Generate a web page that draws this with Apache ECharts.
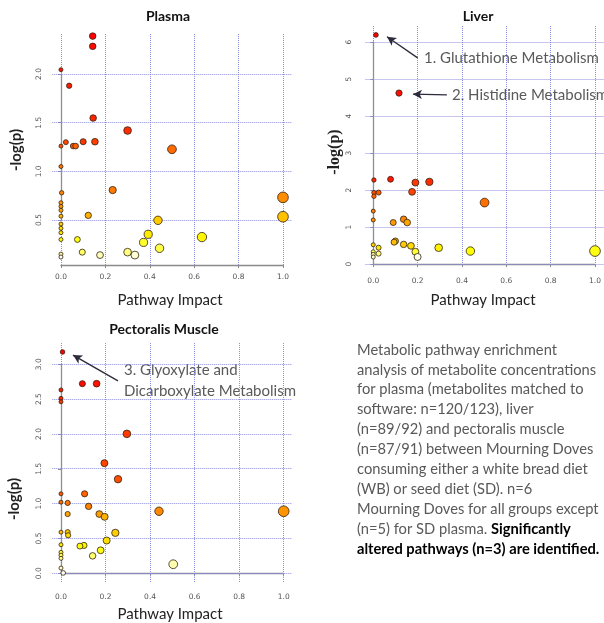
<!DOCTYPE html>
<html><head><meta charset="utf-8">
<script src="https://cdn.jsdelivr.net/npm/echarts@6/dist/echarts.min.js"></script>
<style>html,body{margin:0;padding:0;background:#fff}#c{width:604px;height:623px}</style>
</head><body><div id="c"></div>
<script>
// ---------------- data ----------------
const xTicks = [0, 0.2, 0.4, 0.6, 0.8, 1.0];
const xTickLabels = ['0.0', '0.2', '0.4', '0.6', '0.8', '1.0'];
const plasmaYTicks = [0.5, 1.0, 1.5, 2.0];
const liverYTicks = [0, 1, 2, 3, 4, 5, 6];
const pectYTicks = [0, 0.5, 1.0, 1.5, 2.0, 2.5, 3.0];

const plasmaImpact = [0.143,0.143,0,0.037,0.145,0.30,0.022,0,0.055,0.066,0.10,0.153,0.50,0,0.003,0.233,1.0,0,0,0,0,0.123,0.437,1.0,0,0,0,0,0.074,0.393,0.372,0.635,0.444,0.096,0.176,0.30,0.333,0,0];
const plasmaLogP   = [2.39,2.285,2.045,1.88,1.548,1.42,1.30,1.26,1.26,1.26,1.305,1.305,1.227,1.05,0.78,0.808,0.733,0.678,0.64,0.60,0.54,0.548,0.497,0.534,0.459,0.415,0.37,0.30,0.30,0.353,0.27,0.325,0.21,0.17,0.14,0.17,0.14,0.15,0.12];

const liverImpact = [0.012,0.116,0.003,0.078,0.19,0.253,0.003,0.024,0.003,0.175,0.502,0,0,0.09,0.137,0.153,0.10,0.094,0.137,0,0.024,0.17,0.295,0.19,0.438,1.0,0,0,0.024,0,0.20];
const liverLogP   = [6.19,4.62,2.27,2.29,2.20,2.22,1.93,1.93,1.83,1.95,1.66,1.43,1.19,1.12,1.21,1.12,0.62,0.59,0.53,0.52,0.44,0.49,0.44,0.33,0.35,0.35,0.33,0.26,0.28,0.19,0.19];

const pectImpact = [0.007,0.096,0.16,0,0,0,0.296,0.195,0.256,0,0.106,0,0.03,0.124,0.44,1.0,0.172,0.196,0.03,0,0.03,0.032,0.244,0.205,0,0.085,0.103,0.178,0.142,0,0,0,0.504,0,0.01];
const pectLogP   = [3.175,2.72,2.72,2.63,2.51,2.46,2.0,1.58,1.35,1.14,1.14,1.02,1.01,0.96,0.89,0.89,0.85,0.81,0.85,0.59,0.59,0.545,0.58,0.47,0.41,0.39,0.40,0.33,0.25,0.30,0.26,0.215,0.13,0.075,0.005];

const panelTitles = ['Plasma', 'Liver', 'Pectoralis Muscle'];
const xName = 'Pathway Impact';
const yName = '-log(p)';
const notes = [
  {text: '1. Glutathione Metabolism', from: [0.20, 5.57], to: [0.062, 6.14]},
  {text: '2. Histidine Metabolism', from: [0.332, 4.57], to: [0.179, 4.59]},
  {text: '3. Glyoxylate and\nDicarboxylate Metabolism', from: [0.256, 2.76], to: [0.054, 3.13]}
];
const captionLines = [
  'Metabolic pathway enrichment',
  'analysis of metabolite concentrations',
  'for plasma (metabolites matched to',
  'software: n=120/123), liver',
  '(n=89/92) and pectoralis muscle',
  '(n=87/91) between Mourning Doves',
  'consuming either a white bread diet',
  '(WB) or seed diet (SD). n=6',
  'Mourning Doves for all groups except',
  '(n=5) for SD plasma. {b|Significantly}',
  '{b|altered pathways (n=3) are identified.}'
];

// ---------------- helpers ----------------
function hsv(h, s, v) {
  const i = Math.floor(h * 6), f = h * 6 - i;
  const p = v * (1 - s), q = v * (1 - f * s), t = v * (1 - (1 - f) * s);
  let r, g, b;
  switch (i % 6) {
    case 0: r = v; g = t; b = p; break;
    case 1: r = q; g = v; b = p; break;
    case 2: r = p; g = v; b = t; break;
    case 3: r = p; g = q; b = v; break;
    case 4: r = t; g = p; b = v; break;
    default: r = v; g = p; b = q;
  }
  const c = x => Math.round(x * 255);
  return 'rgb(' + c(r) + ',' + c(g) + ',' + c(b) + ')';
}
// R's heat.colors(n)
function heatColors(n) {
  const j = Math.floor(n / 4), i = n - j, out = [];
  for (let k = 0; k < i; k++) out.push(hsv(i > 1 ? (k / (i - 1)) / 6 : 0, 1, 1));
  const s0 = 1 - 1 / (2 * j), s1 = 1 / (2 * j);
  for (let k = 0; k < j; k++) out.push(hsv(1 / 6, j > 1 ? s0 + k * (s1 - s0) / (j - 1) : s0, 1));
  return out;
}
// points sorted by decreasing -log(p); colour by rank
function buildPoints(xs, ys) {
  const idx = xs.map((_, k) => k).sort((a, b) => ys[b] - ys[a]);
  const cols = heatColors(xs.length);
  return idx.map((k, r) => ({ value: [xs[k], ys[k]], itemStyle: { color: cols[r] } }));
}
function xLabel(v) {
  const n = Number(v);
  const k = xTicks.findIndex(t => Math.abs(t - n) < 1e-6);
  return k >= 0 ? xTickLabels[k] : '';
}

const GRID_COLOR = '#8c8ce0';
const AXIS_COLOR = '#8a8a8a';

// layout of each panel: main plot region + tick-range box (R style axes)
const panels = [
  { main: {left: 52.3, top: 33, width: 240, height: 232}, xr: [-0.039, 1.042], yr: [0.038, 2.422],
    box: {left: 61, top: 74, width: 222, height: 146}, yAx: [0.5, 2.0, 0.5], xOff: 45, yOff: 8.7,
    yTicks: plasmaYTicks, xs: plasmaImpact, ys: plasmaLogP, xLabMargin: 8, yLabMargin: 9, yFmt: v => Number(v).toFixed(1) },
  { main: {left: 365.5, top: 25, width: 238.5, height: 240}, xr: [-0.035, 1.0406], yr: [-0.027, 6.459],
    box: {left: 373.3, top: 42, width: 221.7, height: 222}, yAx: [0, 6, 1], xOff: 0.5, yOff: 7.8,
    yTicks: liverYTicks, xs: liverImpact, ys: liverLogP, xLabMargin: 12, yLabMargin: 12, yFmt: v => String(Math.round(Number(v))) },
  { main: {left: 52.3, top: 342, width: 240, height: 240}, xr: [-0.039, 1.0386], yr: [-0.125, 3.318],
    box: {left: 61, top: 364.3, width: 222.7, height: 209}, yAx: [0, 3, 0.5], xOff: 8.7, yOff: 8.7,
    yTicks: pectYTicks, xs: pectImpact, ys: pectLogP, xLabMargin: 11, yLabMargin: 9, yFmt: v => Number(v).toFixed(1) }
];

const grid = [], xAxis = [], yAxis = [], series = [];
panels.forEach((p, k) => {
  const lab = {fontSize: 7.5, color: '#555', fontFamily: 'DejaVu Sans'};
  const gMain = grid.length;
  grid.push(Object.assign({containLabel: false}, p.main));
  // main x axis: carries only the tick labels (line/ticks drawn by the box axis)
  xAxis.push({gridIndex: gMain, type: 'value', min: p.xr[0], max: p.xr[1], position: 'bottom',
    axisLine: {show: false}, axisTick: {show: false, customValues: xTicks}, splitLine: {show: false},
    axisLabel: Object.assign({show: true, customValues: xTicks, margin: p.xLabMargin + 0.5, formatter: xLabel,
      showMinLabel: true, showMaxLabel: true, hideOverlap: false}, lab)});
  yAxis.push({gridIndex: gMain, type: 'value', min: p.yr[0], max: p.yr[1], show: false});
  const gBox = grid.length;
  grid.push(Object.assign({containLabel: false}, p.box));
  xAxis.push({gridIndex: gBox, type: 'value', min: 0, max: 1, interval: 0.2, position: 'bottom', offset: p.xOff,
    axisLine: {show: true, lineStyle: {color: AXIS_COLOR, width: 1.3}},
    axisTick: {show: true, length: 3, lineStyle: {color: AXIS_COLOR}},
    axisLabel: {show: false},
    splitLine: {show: false}});
  yAxis.push({gridIndex: gBox, type: 'value', min: p.yAx[0], max: p.yAx[1], interval: p.yAx[2], position: 'left', offset: p.yOff,
    axisLine: {show: true, lineStyle: {color: AXIS_COLOR, width: 1.3}},
    axisTick: {show: true, length: 3, lineStyle: {color: AXIS_COLOR}},
    axisLabel: Object.assign({margin: p.yLabMargin, rotate: 90, formatter: p.yFmt}, lab),
    splitLine: {show: false}});

  const ml = [];
  xTicks.forEach(v => ml.push({xAxis: v}));
  p.yTicks.forEach(v => ml.push({yAxis: v}));
  series.push({type: 'scatter', xAxisIndex: gMain, yAxisIndex: gMain, data: [], z: 1, silent: true,
    markLine: {silent: true, symbol: ['none', 'none'], animation: false, label: {show: false},
      lineStyle: {color: GRID_COLOR, type: 'dotted', width: 1}, data: ml}});
  series.push({type: 'scatter', xAxisIndex: gMain, yAxisIndex: gMain, z: 5, clip: false, silent: true,
    symbolSize: v => 4 + 6.7 * Math.sqrt(v[0]),
    itemStyle: {borderColor: 'rgba(50,35,20,0.8)', borderWidth: 1, opacity: 1},
    data: buildPoints(p.xs, p.ys)});
});

// annotation arrows (data coordinates)
function arrowSeries(gi, list) {
  return {type: 'scatter', xAxisIndex: gi, yAxisIndex: gi, data: [], z: 4, silent: true,
    markLine: {silent: true, animation: false, label: {show: false}, symbol: ['none', 'arrow'], symbolSize: [7, 9],
      lineStyle: {color: '#2b2b3b', type: 'solid', width: 1.3},
      data: list.map(n => [{coord: n.from}, {coord: n.to}])}};
}
series.push(arrowSeries(2, [notes[0], notes[1]]));
series.push(arrowSeries(4, [notes[2]]));

function txt(x, y, text, font, fill, extra) {
  return Object.assign({type: 'text', x: x, y: y, silent: true,
    style: {text: text, font: font, fill: fill, align: 'center', verticalAlign: 'middle',
      textAlign: 'center', textVerticalAlign: 'middle'}}, extra || {});
}
const titleFont = 'bold 14px Lato';
const xNameFont = '15px Lato';
const noteFont = '15px Lato';
const capFont = '14.7px Lato';
const graphic = [
  txt(168, 16, panelTitles[0], titleFont, '#111'),
  txt(478, 16, panelTitles[1], titleFont, '#111'),
  txt(164, 329, panelTitles[2], titleFont, '#111'),
  txt(170, 300, xName, xNameFont, '#222'),
  txt(483, 300, xName, xNameFont, '#222'),
  txt(170, 614, xName, xNameFont, '#222'),
  txt(16, 150, yName, 'bold 15px Lato', '#222', {rotation: Math.PI / 2}),
  txt(335, 152, yName, 'bold 16px "Liberation Serif"', '#222', {rotation: Math.PI / 2}),
  txt(14, 499, yName, 'bold 15px Lato', '#222', {rotation: Math.PI / 2}),
  {type: 'text', x: 424, y: 58, silent: true, style: {text: notes[0].text, font: noteFont, fill: '#5a5a5a', verticalAlign: 'middle', textVerticalAlign: 'middle'}},
  {type: 'text', x: 452, y: 95, silent: true, style: {text: notes[1].text, font: noteFont, fill: '#5a5a5a', verticalAlign: 'middle', textVerticalAlign: 'middle'}},
  {type: 'text', x: 124, y: 360, silent: true, style: {text: notes[2].text, font: noteFont, fill: '#5a5a5a', lineHeight: 21}},
  {type: 'text', x: 357, y: 340, silent: true, style: {text: captionLines.join('\n'), font: capFont, fill: '#595959', lineHeight: 19.9,
    rich: {b: {font: 'bold ' + capFont, fill: '#000', lineHeight: 19.9}}}}
];

const chart = echarts.init(document.getElementById('c'), null, {renderer: 'canvas'});
chart.setOption({animation: false, backgroundColor: '#fff', grid, xAxis, yAxis, series, graphic});
</script></body></html>
